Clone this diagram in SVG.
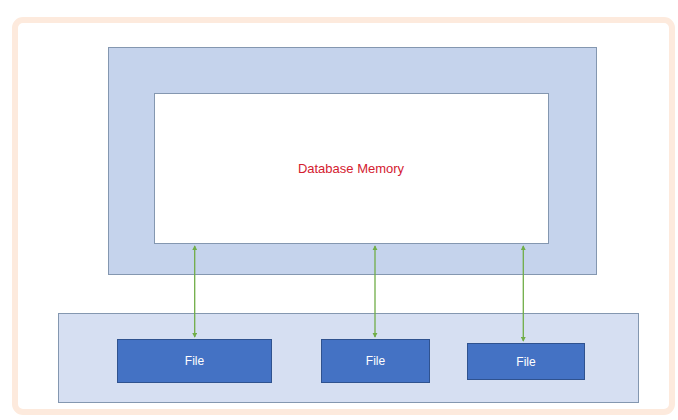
<svg xmlns="http://www.w3.org/2000/svg" width="678" height="420" viewBox="0 0 678 420">
<style>
.file rect{fill:#4472c4;stroke:#2f528f;stroke-width:1}
.file text{fill:#ffffff;font-family:"Liberation Sans",Arial,sans-serif;font-size:12px;text-anchor:middle}
.conn line{stroke:#70ad47;stroke-width:1.3;marker-start:url(#ah);marker-end:url(#ah)}
</style>
<defs>
<marker id="ah" viewBox="0 0 6 6" refX="5" refY="3" markerWidth="4" markerHeight="4" orient="auto-start-reverse">
<path d="M0,0 L6,3 L0,6 z" fill="#70ad47"/>
</marker>
</defs>
<rect x="0" y="0" width="678" height="420" fill="#ffffff"/>
<rect id="frame" x="15" y="20" width="657" height="392" rx="8" fill="#ffffff" stroke="#fdeadd" stroke-width="6"/>
<g id="db-outer">
<rect x="108.5" y="47.5" width="488" height="227" fill="#c5d3ec" stroke="#8497b0" stroke-width="1"/>
</g>
<g id="db-memory">
<rect x="154.5" y="93.5" width="394" height="150" fill="#ffffff" stroke="#8497b0" stroke-width="1"/>
<text x="351" y="173" fill="#d4202f" font-family="'Liberation Sans',Arial,sans-serif" font-size="13" text-anchor="middle">Database Memory</text>
</g>
<g id="storage">
<rect x="58.5" y="313.5" width="580" height="89" fill="#d6dff2" stroke="#8497b0" stroke-width="1"/>
</g>
<g id="file1" class="file">
<rect x="117.5" y="339.5" width="154" height="43"/>
<text x="194.5" y="365">File</text>
</g>
<g id="file2" class="file">
<rect x="321.5" y="339.5" width="108" height="43"/>
<text x="375.5" y="365">File</text>
</g>
<g id="file3" class="file">
<rect x="467.5" y="343.5" width="117" height="36"/>
<text x="526" y="366">File</text>
</g>
<g id="connectors" class="conn">
<line x1="194.7" y1="246" x2="194.7" y2="337"/>
<line x1="375" y1="246" x2="375" y2="337"/>
<line x1="523.3" y1="246" x2="523.3" y2="341"/>
</g>
</svg>
